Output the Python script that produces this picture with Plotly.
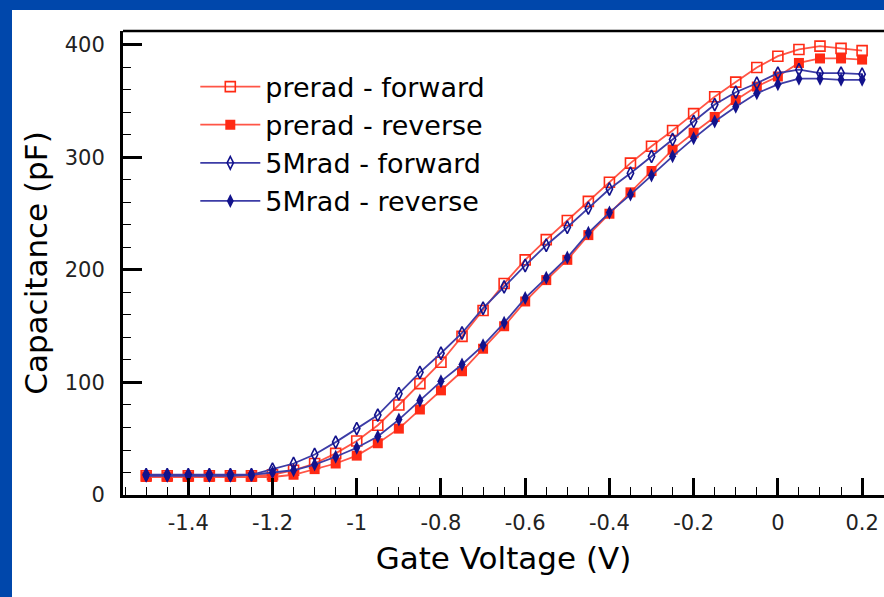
import plotly.graph_objects as go

# Gate voltage sweep (V)
gate_voltage = [-1.5, -1.45, -1.4, -1.35, -1.3, -1.25, -1.2, -1.15, -1.1, -1.05,
                -1.0, -0.95, -0.9, -0.85, -0.8, -0.75, -0.7, -0.65, -0.6, -0.55,
                -0.5, -0.45, -0.4, -0.35, -0.3, -0.25, -0.2, -0.15, -0.1, -0.05,
                0.0, 0.05, 0.1, 0.15, 0.2]

# Capacitance (pF)
prerad_forward = [17, 17, 17, 17, 17, 17, 18, 22, 28, 37,
                  48, 62, 80, 99, 118, 141, 164, 188, 209, 227,
                  244, 261, 278, 295, 310, 324, 339, 354, 367, 380,
                  390, 396, 399, 397, 395]
prerad_reverse = [16, 16, 16, 16, 16, 16, 16, 18, 23, 28,
                  35, 46, 59, 76, 93, 110, 130, 150, 172, 191,
                  209, 231, 250, 269, 288, 307, 322, 336, 351, 363,
                  372, 384, 388, 388, 387]
mrad5_forward = [18, 18, 18, 18, 18, 18, 23, 28, 36, 47,
                 59, 71, 90, 109, 126, 144, 166, 185, 204, 222,
                 238, 255, 272, 286, 301, 316, 332, 347, 358, 366,
                 375, 378, 375, 375, 374]
mrad5_reverse = [17, 17, 17, 17, 17, 18, 20, 22, 27, 34,
                 42, 52, 67, 84, 101, 116, 133, 153, 175, 193,
                 211, 233, 251, 267, 284, 301, 317, 332, 345, 357,
                 365, 370, 370, 369, 369]

x_tickvals = [-1.4, -1.2, -1.0, -0.8, -0.6, -0.4, -0.2, 0.0, 0.2]
x_ticktext = ["-1.4", "-1.2", "-1", "-0.8", "-0.6", "-0.4", "-0.2", "0", "0.2"]
y_tickvals = [0, 100, 200, 300, 400]
y_ticktext = ["0", "100", "200", "300", "400"]

RED = "#ff2a14"
RED_LINE = "#ff5546"
NAVY = "#12128c"
NAVY_LINE = "#3c3ca6"
FONT = "DejaVu Sans"

fig = go.Figure()
fig.add_trace(go.Scatter(
    x=gate_voltage, y=prerad_forward, name="prerad - forward", mode="lines+markers",
    line=dict(color=RED_LINE, width=1.8),
    marker=dict(symbol="square-open", size=10, color=RED, line=dict(width=1.6, color=RED))))
fig.add_trace(go.Scatter(
    x=gate_voltage, y=prerad_reverse, name="prerad - reverse", mode="lines+markers",
    line=dict(color=RED_LINE, width=1.8),
    marker=dict(symbol="square", size=10, color=RED, line=dict(width=0))))
fig.add_trace(go.Scatter(
    x=gate_voltage, y=mrad5_forward, name="5Mrad - forward", mode="lines+markers",
    line=dict(color=NAVY_LINE, width=1.8),
    marker=dict(symbol="diamond-tall-open", size=9, color=NAVY, line=dict(width=1.6, color=NAVY))))
fig.add_trace(go.Scatter(
    x=gate_voltage, y=mrad5_reverse, name="5Mrad - reverse", mode="lines+markers",
    line=dict(color=NAVY_LINE, width=1.8),
    marker=dict(symbol="diamond-tall", size=10, color=NAVY, line=dict(width=0))))

fig.update_layout(
    width=884, height=597,
    margin=dict(l=123, r=0, t=31, b=102),
    paper_bgcolor="#0047ab",
    plot_bgcolor="white",
    font=dict(family=FONT, color="black"),
    showlegend=True,
    legend=dict(
        x=0.095, y=0.932, xanchor="left", yanchor="top",
        bgcolor="rgba(0,0,0,0)", borderwidth=0,
        font=dict(family=FONT, size=27, color="black"),
        itemwidth=60,
    ),
    shapes=[
        # white slide panel behind the chart
        dict(type="rect", xref="paper", yref="paper",
             x0=-111 / 761, x1=1.0, y0=-102 / 464, y1=1 + 21 / 464,
             fillcolor="white", line=dict(width=0), layer="below"),
        # top frame line
        dict(type="line", xref="paper", yref="paper",
             x0=0, x1=1, y0=1, y1=1, line=dict(color="black", width=2.5)),
    ],
)

fig.update_xaxes(
    range=[-1.555, 0.252],
    tickmode="array", tickvals=x_tickvals, ticktext=x_ticktext,
    ticks="inside", ticklen=17, tickwidth=2.5, tickcolor="black",
    minor=dict(ticks="inside", ticklen=8, tickwidth=1.2, tickcolor="black", dtick=0.05, tick0=0),
    showline=True, linecolor="black", linewidth=3,
    showgrid=False, zeroline=False,
    tickfont=dict(family=FONT, size=21, color="#222222"),
    ticklabelstandoff=7,
    title=dict(text="Gate Voltage (V)", font=dict(family=FONT, size=31, color="black"), standoff=14),
)
fig.update_yaxes(
    range=[0, 412.4],
    tickmode="array", tickvals=y_tickvals, ticktext=y_ticktext,
    ticks="inside", ticklen=19, tickwidth=2.5, tickcolor="black",
    minor=dict(ticks="inside", ticklen=8, tickwidth=1.2, tickcolor="black", dtick=20, tick0=0),
    showline=True, linecolor="black", linewidth=3,
    showgrid=False, zeroline=False,
    tickfont=dict(family=FONT, size=21, color="#222222"),
    ticklabelstandoff=11,
    title=dict(text="Capacitance (pF)", font=dict(family=FONT, size=31, color="black"), standoff=8),
)

fig.write_html("out.html")
